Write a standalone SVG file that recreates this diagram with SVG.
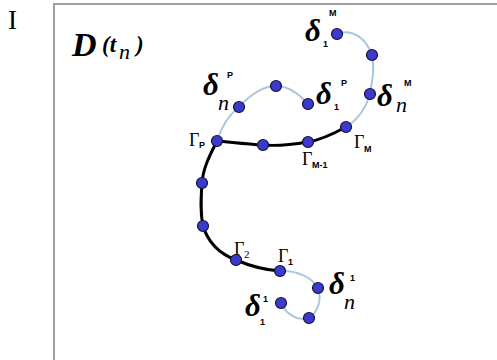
<svg xmlns="http://www.w3.org/2000/svg" width="497" height="360" viewBox="0 0 497 360">
<style>
.frame{fill:none;stroke:#a0a0a0;stroke-width:2}
.main{fill:none;stroke:#000;stroke-width:3;stroke-linejoin:round;stroke-linecap:round}
.thin{fill:none;stroke:#a9c8de;stroke-width:2}
.dot{fill:#3a3acd;stroke:#14143c;stroke-width:1.2}
.dl{font-family:"Liberation Serif","DejaVu Serif",serif;font-style:italic;font-weight:bold;font-size:31px;fill:#000}
.sn{font-family:"Liberation Serif","DejaVu Serif",serif;font-style:italic;font-size:22px;fill:#000}
.ss{font-family:"Liberation Sans","DejaVu Sans",sans-serif;font-weight:bold;font-size:9px;fill:#000}
.g{font-family:"Liberation Serif","DejaVu Serif",serif;font-size:18px;fill:#000}
.gs{font-family:"Liberation Sans","DejaVu Sans",sans-serif;font-weight:bold;font-size:9px;fill:#000}
</style>
<rect width="497" height="360" fill="#fff"/>
<text x="8" y="29" font-family="Liberation Serif, serif" font-size="27">I</text>
<path class="frame" d="M54,362 L54,4 L499,4"/>
<g id="title">
<text x="72" y="56" font-family="Liberation Serif, serif" font-style="italic" font-weight="bold" font-size="34">D</text>
<text x="102" y="52" font-family="Liberation Serif, serif" font-style="italic" font-weight="bold" font-size="23">(t</text>
<text x="119" y="59" font-family="Liberation Serif, serif" font-style="italic" font-size="22">n</text>
<text x="136" y="52" font-family="Liberation Serif, serif" font-style="italic" font-weight="bold" font-size="23">)</text>
</g>
<g id="connectors">
<path class="main" d="M346,127 C335,133 320,140 308,142 C290,145 275,146 263,145 C245,144 230,142 217,141 C210,155 203,168 202,183 C201,198 200,212 203,226 C208,242 220,254 236,260 C250,266 265,270 280,271"/>
<path class="thin" d="M217,141 C222,125 230,114 239,107 C250,95 262,86 276,86 C290,86 300,95 308,104"/>
<path class="thin" d="M337,34 C352,28 366,38 372,55 C375,68 372,82 370,94 C366,108 357,120 346,127"/>
<path class="thin" d="M280,271 C298,270 312,278 318,288 C322,300 318,312 309,318 C298,322 286,314 281,303"/>
</g>
<g id="nodes">
<circle class="dot" cx="337" cy="34" r="5.5"/>
<circle class="dot" cx="372" cy="55" r="5.5"/>
<circle class="dot" cx="370" cy="94" r="5.5"/>
<circle class="dot" cx="346" cy="127" r="5.5"/>
<circle class="dot" cx="308" cy="142" r="5.5"/>
<circle class="dot" cx="263" cy="145" r="5.5"/>
<circle class="dot" cx="217" cy="141" r="5.5"/>
<circle class="dot" cx="239" cy="107" r="5.5"/>
<circle class="dot" cx="276" cy="86" r="5.5"/>
<circle class="dot" cx="308" cy="104" r="5.5"/>
<circle class="dot" cx="202" cy="183" r="5.5"/>
<circle class="dot" cx="203" cy="226" r="5.5"/>
<circle class="dot" cx="236" cy="260" r="5.5"/>
<circle class="dot" cx="280" cy="271" r="5.5"/>
<circle class="dot" cx="318" cy="288" r="5.5"/>
<circle class="dot" cx="309" cy="318" r="5.5"/>
<circle class="dot" cx="281" cy="303" r="5.5"/>
</g>
<g id="labels">
<g id="delta-n-P"><text class="dl" x="203" y="95">δ</text><text class="ss" x="227" y="78">P</text><text class="sn" x="218" y="110">n</text></g>
<g id="delta-1-M"><text class="dl" x="305" y="41">δ</text><text class="ss" x="329" y="16">M</text><text class="ss" x="323" y="47">1</text></g>
<g id="delta-1-P"><text class="dl" x="316" y="104">δ</text><text class="ss" x="341" y="86">P</text><text class="ss" x="334" y="110">1</text></g>
<g id="delta-n-M"><text class="dl" x="377" y="106">δ</text><text class="ss" x="404" y="86">M</text><text class="sn" x="396" y="112">n</text></g>
<g id="delta-n-1"><text class="dl" x="329" y="294">δ</text><text class="ss" x="350" y="281">1</text><text class="sn" x="344" y="309">n</text></g>
<g id="delta-1-1"><text class="dl" x="245" y="316">δ</text><text class="ss" x="263" y="302">1</text><text class="ss" x="260" y="325">1</text></g>
<g id="gamma-P"><text class="g" x="189" y="146">Γ</text><text class="gs" x="199" y="148">P</text></g>
<g id="gamma-M"><text class="g" x="354" y="148">Γ</text><text class="gs" x="364" y="152">M</text></g>
<g id="gamma-M-1"><text class="g" x="302" y="165">Γ</text><text class="gs" x="312" y="168">M-1</text></g>
<g id="gamma-2"><text class="g" x="234" y="255">Γ</text><text x="244" y="258" font-family="Liberation Serif, serif" font-size="11">2</text></g>
<g id="gamma-1"><text class="g" x="278" y="262">Γ</text><text class="gs" x="288" y="265">1</text></g>
</g>
</svg>
